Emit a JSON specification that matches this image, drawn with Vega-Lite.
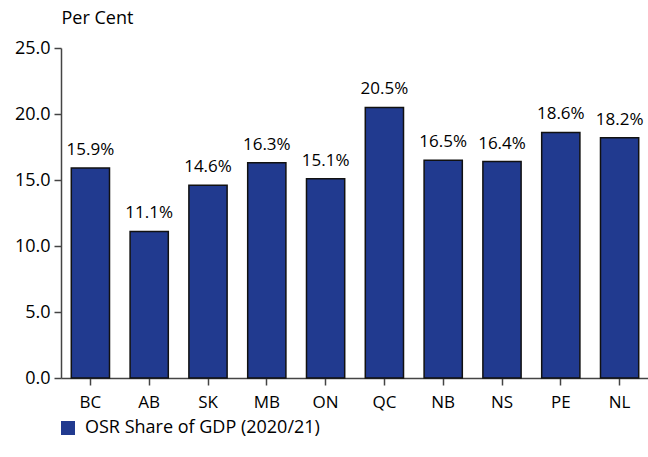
{
  "$schema": "https://vega.github.io/schema/vega-lite/v6.json",
  "width": 588,
  "height": 330,
  "autosize": {"type": "none"},
  "padding": {"left": 61, "top": 48, "right": 0, "bottom": 79},
  "background": "white",
  "config": {
    "view": {"stroke": null},
    "font": "Open Sans",
    "axis": {"labelFont": "Open Sans", "titleFont": "Open Sans", "labelFontSize": 17, "labelColor": "black", "domainColor": "#444", "tickColor": "#444", "domainWidth": 1.5, "tickWidth": 1.5, "grid": false}
  },
  "data": {
    "values": [
      {"prov": "BC", "value": 15.9, "series": "OSR Share of GDP (2020/21)"},
      {"prov": "AB", "value": 11.1, "series": "OSR Share of GDP (2020/21)"},
      {"prov": "SK", "value": 14.6, "series": "OSR Share of GDP (2020/21)"},
      {"prov": "MB", "value": 16.3, "series": "OSR Share of GDP (2020/21)"},
      {"prov": "ON", "value": 15.1, "series": "OSR Share of GDP (2020/21)"},
      {"prov": "QC", "value": 20.5, "series": "OSR Share of GDP (2020/21)"},
      {"prov": "NB", "value": 16.5, "series": "OSR Share of GDP (2020/21)"},
      {"prov": "NS", "value": 16.4, "series": "OSR Share of GDP (2020/21)"},
      {"prov": "PE", "value": 18.6, "series": "OSR Share of GDP (2020/21)"},
      {"prov": "NL", "value": 18.2, "series": "OSR Share of GDP (2020/21)"}
    ]
  },
  "encoding": {
    "x": {
      "field": "prov", "type": "nominal", "sort": null,
      "scale": {"paddingInner": 0.35, "paddingOuter": 0.175},
      "axis": {"title": null, "labelAngle": 0, "tickSize": 7, "labelPadding": 9}
    },
    "y": {
      "field": "value", "type": "quantitative",
      "scale": {"domain": [0, 25]},
      "axis": {"values": [0, 5, 10, 15, 20, 25], "format": ".1f", "tickSize": 7, "labelPadding": 4, "labelFontSize": 18,
        "title": "Per Cent", "titleAngle": 0, "titleAlign": "left", "titleBaseline": "middle", "titleX": 0, "titleY": -30, "titleFontSize": 18, "titleFontWeight": "normal", "titleColor": "black"}
    }
  },
  "layer": [
    {
      "mark": {"type": "bar", "stroke": "#111", "strokeWidth": 1.5},
      "encoding": {
        "color": {
          "field": "series", "type": "nominal",
          "scale": {"range": ["#213a8f"]},
          "legend": {"title": null, "orient": "none", "legendX": -2, "legendY": 371, "symbolType": "square", "symbolSize": 196, "symbolStrokeWidth": 0, "labelFontSize": 18, "labelColor": "black", "labelFont": "Open Sans", "labelOffset": 8, "labelLimit": 0}
        }
      }
    },
    {
      "transform": [{"calculate": "format(datum.value, '.1f') + '%'", "as": "label"}],
      "mark": {"type": "text", "dy": -18, "fontSize": 17, "color": "black", "baseline": "middle"},
      "encoding": {
        "text": {"field": "label", "type": "nominal"}
      }
    }
  ]
}
